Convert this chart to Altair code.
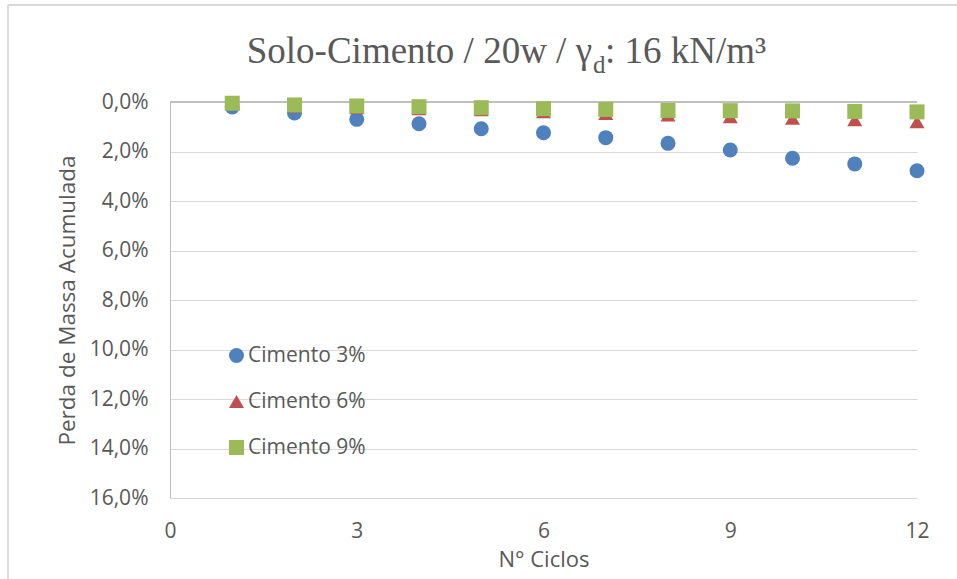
import altair as alt
import pandas as pd

ciclos = [1, 2, 3, 4, 5, 6, 7, 8, 9, 10, 11, 12]
cimento3 = [0.0020, 0.0044, 0.0070, 0.0088, 0.0108, 0.0124, 0.0144, 0.0167, 0.0194, 0.0227, 0.0250, 0.0278]
cimento6 = [0.0006, 0.0017, 0.0023, 0.0027, 0.0031, 0.0039, 0.0046, 0.0053, 0.0060, 0.0066, 0.0072, 0.0080]
cimento9 = [0.0005, 0.0012, 0.0016, 0.0019, 0.0023, 0.0027, 0.0030, 0.0034, 0.0035, 0.0036, 0.0038, 0.0040]
series = ["Cimento 3%", "Cimento 6%", "Cimento 9%"]
colors = ["#4f81bd", "#c0504d", "#9bbb59"]
shapes = ["circle", "triangle-up", "square"]
y_ticks = [0, 0.02, 0.04, 0.06, 0.08, 0.10, 0.12, 0.14, 0.16]
x_ticks = [0, 3, 6, 9, 12]

rows = []
for name, vals in zip(series, [cimento3, cimento6, cimento9]):
    for c, v in zip(ciclos, vals):
        rows.append({"ciclo": c, "perda": v, "serie": name})
df = pd.DataFrame(rows)

FONT = "Open Sans"
GRAY = "#595959"
W, H = 747, 396

points = alt.Chart(df).mark_point(filled=True, size=225, opacity=1).encode(
    x=alt.X("ciclo:Q",
            scale=alt.Scale(domain=[0, 12], nice=False),
            axis=alt.Axis(values=x_ticks, title="N° Ciclos", grid=False, domain=False,
                          ticks=False, labelPadding=22, titlePadding=8, labelFlush=False,
                          labelFontSize=21, titleFontSize=22, labelFont=FONT, titleFont=FONT,
                          labelColor=GRAY, titleColor=GRAY, titleFontWeight="normal")),
    y=alt.Y("perda:Q",
            scale=alt.Scale(domain=[0, 0.16], reverse=True, nice=False),
            axis=alt.Axis(values=y_ticks, title="Perda de Massa Acumulada",
                          labelExpr="replace(format(datum.value, '.1%'), '.', ',')",
                          grid=True, gridColor="#d9d9d9", domainColor="#bfbfbf",
                          ticks=False, labelPadding=22, titlePadding=10,
                          labelFontSize=21, titleFontSize=22.5, labelFont=FONT, titleFont=FONT,
                          labelColor=GRAY, titleColor=GRAY, titleFontWeight="normal")),
    color=alt.Color("serie:N", scale=alt.Scale(domain=series, range=colors),
                    legend=alt.Legend(title=None, orient="none", legendX=56, legendY=243,
                                      labelFontSize=21, labelFont=FONT, labelColor=GRAY,
                                      symbolSize=225, rowPadding=24, labelOffset=1,
                                      symbolOpacity=1)),
    shape=alt.Shape("serie:N", scale=alt.Scale(domain=series, range=shapes)),
    order=alt.Order("serie:N"),
)

top_rule = alt.Chart(df).mark_rule(color="#bfbfbf", strokeWidth=1.5).encode(
    x=alt.value(0), x2=alt.value(W), y=alt.value(0)
)

border_left = alt.Chart(df).mark_rule(color="#d9d9d9", strokeWidth=1.5).encode(
    x=alt.value(-162), y=alt.value(-97), y2=alt.value(480)
)
border_top = alt.Chart(df).mark_rule(color="#d9d9d9", strokeWidth=1.5).encode(
    x=alt.value(-162), x2=alt.value(790), y=alt.value(-97)
)

title_df = pd.DataFrame({"a": ["Solo-Cimento / 20w / γ"], "b": ["d"], "c": [": 16 kN/m³"]})
t1 = alt.Chart(title_df).mark_text(font="Liberation Serif", fontSize=37, color=GRAY,
                                   align="right", baseline="alphabetic").encode(
    x=alt.value(422), y=alt.value(-39), text="a:N")
t2 = alt.Chart(title_df).mark_text(font="Liberation Serif", fontSize=25, color=GRAY,
                                   align="left", baseline="alphabetic").encode(
    x=alt.value(423), y=alt.value(-29), text="b:N")
t3 = alt.Chart(title_df).mark_text(font="Liberation Serif", fontSize=37, color=GRAY,
                                   align="left", baseline="alphabetic").encode(
    x=alt.value(435), y=alt.value(-39), text="c:N")

chart = alt.layer(border_left, border_top, top_rule, points, t1, t2, t3).properties(
    width=W, height=H,
    autosize=alt.AutoSizeParams(type="none"),
    padding={"left": 170, "top": 102, "right": 40, "bottom": 81},
    background="white",
).configure_view(stroke=None)

chart.save("out.html", embed_options={"renderer": "svg", "actions": False})
